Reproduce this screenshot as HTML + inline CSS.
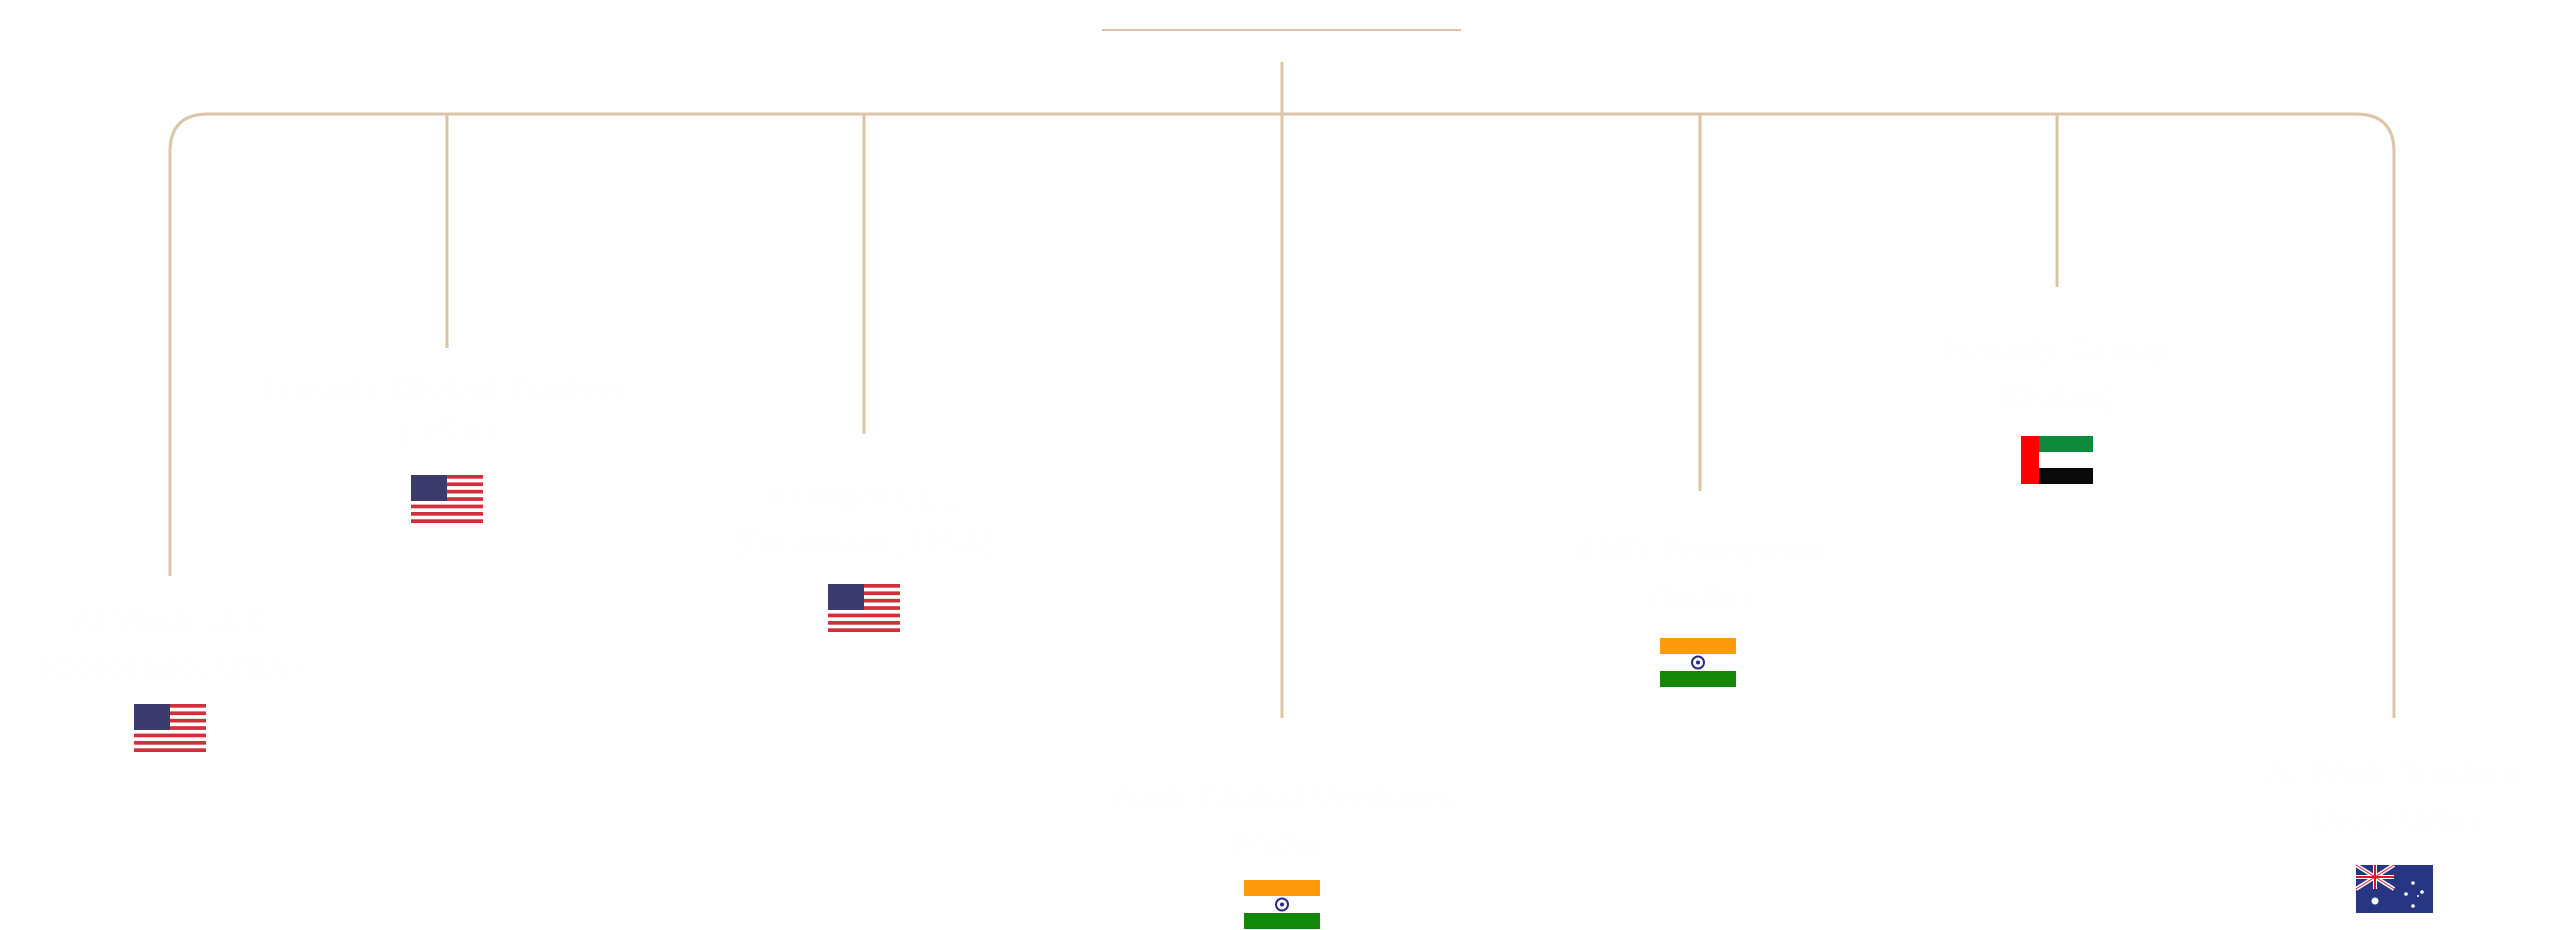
<!DOCTYPE html>
<html><head><meta charset="utf-8"><style>
html,body{margin:0;padding:0;background:#fff;width:2560px;height:930px;overflow:hidden}
svg{display:block}
text{font-family:"Liberation Sans",sans-serif;font-weight:bold;font-size:34px;fill:#fefefe;text-anchor:middle}
</style></head><body>
<svg width="2560" height="930" viewBox="0 0 2560 930" xmlns="http://www.w3.org/2000/svg">
<defs>
<g id="us">
<rect width="72" height="48" fill="#fff"/>
<g fill="#d22f3c">
<rect y="0" width="72" height="3.7"/><rect y="7.4" width="72" height="3.7"/><rect y="14.8" width="72" height="3.7"/><rect y="22.2" width="72" height="3.7"/><rect y="29.6" width="72" height="3.7"/><rect y="37" width="72" height="3.7"/><rect y="44.3" width="72" height="3.7"/>
</g>
<rect width="36" height="26" fill="#3c3b6e"/>
</g>
<g id="in">
<rect width="76" height="16" fill="#ff9a0f"/>
<rect y="16" width="76" height="17" fill="#fff"/>
<rect y="33" width="76" height="16" fill="#138808"/>
<circle cx="38" cy="24.5" r="6" fill="none" stroke="#2a2a8a" stroke-width="2"/>
<circle cx="38" cy="24.5" r="2" fill="#2a2a8a"/>
</g>
</defs>
<g stroke="#dcc4a6" stroke-width="3" fill="none">
<line x1="1102" y1="30" x2="1461" y2="30" stroke-width="2"/>
<line x1="1282" y1="62" x2="1282" y2="718"/>
<path d="M170 576 V152 Q170 114 208 114 H2356 Q2394 114 2394 152 V718"/>
<line x1="447" y1="114" x2="447" y2="348"/>
<line x1="864" y1="114" x2="864" y2="434"/>
<line x1="1700" y1="114" x2="1700" y2="491"/>
<line x1="2057" y1="114" x2="2057" y2="287"/>
</g>
<text x="170" y="632">Al Wadi LLC</text><text x="170" y="678">(Colorado, USA)</text>
<use href="#us" x="134" y="704"/>
<text x="447" y="399">Ismaily Global Traders</text><text x="447" y="443">(USA)</text>
<use href="#us" x="411" y="475"/>
<text x="864" y="508">Al Wadi LLC</text><text x="864" y="554">(Delaware, USA)</text>
<use href="#us" x="828" y="584"/>
<text x="1282" y="809">Wadi Global Ventures</text><text x="1282" y="854">(India)</text>
<use href="#in" x="1244" y="880"/>
<text x="1700" y="562">AMD Enterprise</text><text x="1700" y="608">(India)</text>
<use href="#in" x="1660" y="638"/>
<text x="2057" y="360">Ismaily Group</text><text x="2057" y="407">(Dubai)</text>
<g transform="translate(2021,436)">
<rect width="72" height="48" fill="#fff"/>
<rect x="18" width="54" height="16" fill="#0f8a3c"/>
<rect x="18" y="32" width="54" height="16" fill="#0a0a0a"/>
<rect width="18" height="48" fill="#ff0000"/>
</g>
<text x="2394" y="784">Al Wadi Traders</text><text x="2394" y="830">(Australia)</text>
<g transform="translate(2356,865)">
<rect width="77" height="48" fill="#283583"/>
<g stroke="#fff" stroke-width="4"><line x1="0" y1="0" x2="38" y2="24"/><line x1="38" y1="0" x2="0" y2="24"/><line x1="19" y1="0" x2="19" y2="24"/><line x1="0" y1="12" x2="38" y2="12"/></g>
<g stroke="#e8112d" stroke-width="2"><line x1="19" y1="0" x2="19" y2="24"/><line x1="0" y1="12" x2="38" y2="12"/><line x1="0" y1="0" x2="38" y2="24" stroke-width="1"/><line x1="38" y1="0" x2="0" y2="24" stroke-width="1"/></g>
<g fill="#fff"><circle cx="19" cy="36" r="3.5"/><circle cx="57" cy="18" r="1.8"/><circle cx="66" cy="27" r="1.8"/><circle cx="50" cy="29" r="1.8"/><circle cx="57" cy="41" r="1.8"/><circle cx="62" cy="31" r="1"/></g>
</g>
</svg>
</body></html>
